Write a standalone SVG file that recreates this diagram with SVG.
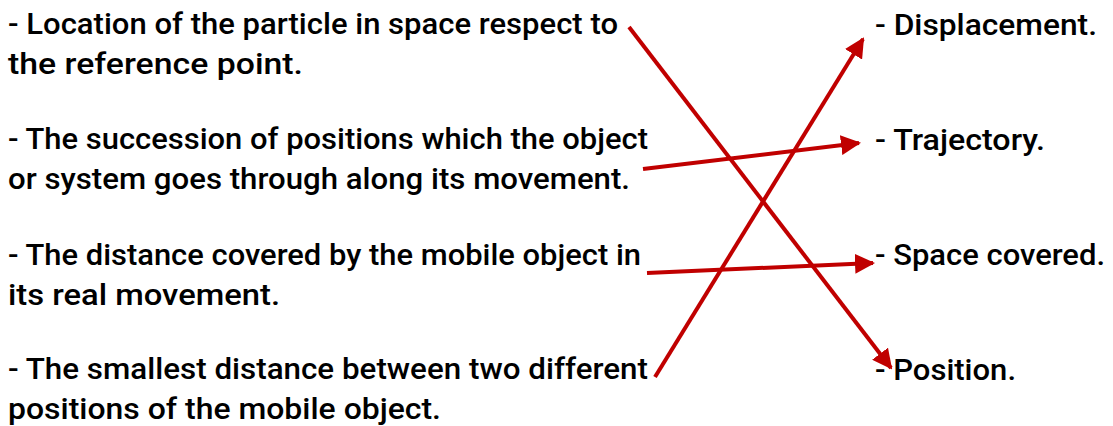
<svg xmlns="http://www.w3.org/2000/svg" width="1113" height="426" viewBox="0 0 1113 426">
<style>
text{font-family:Roboto,"DejaVu Sans Condensed",sans-serif;font-size:30px;font-weight:500;fill:#000;}
.c{stroke:#c00000;stroke-width:4;fill:none;marker-end:url(#ah);}
</style>
<defs>
<marker id="ah" viewBox="0 0 10 10" refX="9" refY="5" markerWidth="5" markerHeight="5" orient="auto" markerUnits="strokeWidth">
<path d="M0,0 L10,5 L0,10 z" fill="#c00000"/>
</marker>
</defs>
<rect width="1113" height="426" fill="#fff"/>
<g id="d1"><text x="8" y="34" textLength="610" lengthAdjust="spacingAndGlyphs">- Location of the particle in space respect to</text><text x="8" y="74" textLength="295" lengthAdjust="spacingAndGlyphs">the reference point.</text></g>
<g id="d2"><text x="8" y="149" textLength="640" lengthAdjust="spacingAndGlyphs">- The succession of positions which the object</text><text x="8" y="189" textLength="622" lengthAdjust="spacingAndGlyphs">or system goes through along its movement.</text></g>
<g id="d3"><text x="8" y="265" textLength="633" lengthAdjust="spacingAndGlyphs">- The distance covered by the mobile object in</text><text x="8" y="305" textLength="272" lengthAdjust="spacingAndGlyphs">its real movement.</text></g>
<g id="d4"><text x="8" y="379" textLength="640" lengthAdjust="spacingAndGlyphs">- The smallest distance between two different</text><text x="8" y="419" textLength="433" lengthAdjust="spacingAndGlyphs">positions of the mobile object.</text></g>
<g id="t1"><text x="875" y="35" textLength="222" lengthAdjust="spacingAndGlyphs">- Displacement.</text></g>
<g id="t2"><text x="875" y="150" textLength="170" lengthAdjust="spacingAndGlyphs">- Trajectory.</text></g>
<g id="t3"><text x="875" y="265" textLength="230" lengthAdjust="spacingAndGlyphs">- Space covered.</text></g>
<g id="t4"><text x="875" y="380" textLength="141" lengthAdjust="spacingAndGlyphs">- Position.</text></g>
<g id="connectors">
<line class="c" x1="629" y1="27" x2="891" y2="368"/>
<line class="c" x1="643" y1="169" x2="859" y2="143"/>
<line class="c" x1="647" y1="273" x2="873" y2="263"/>
<line class="c" x1="655" y1="377" x2="863" y2="39"/>
</g>
</svg>
